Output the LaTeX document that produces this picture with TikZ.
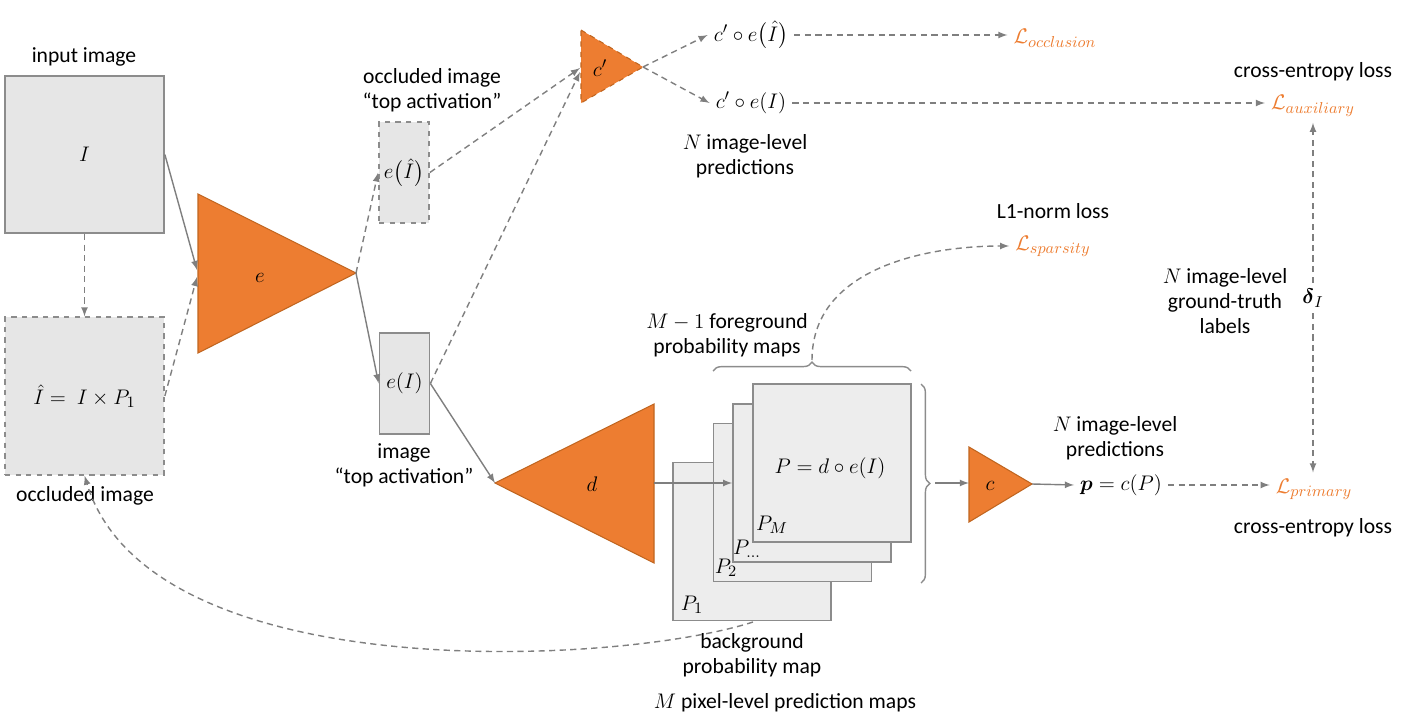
\documentclass[tikz,border=0pt]{standalone}
\usepackage{amsmath,amssymb}
\usepackage{fontspec}
\setmainfont{Carlito}
\usepackage{tikz}
\usetikzlibrary{positioning,calc,decorations.pathreplacing}

\definecolor{netorange}{HTML}{ED7D31}
\definecolor{netedge}{HTML}{C0651F}
\definecolor{boxgray}{HTML}{E6E6E6}
\definecolor{mapgray}{HTML}{EDEDED}
\definecolor{linegray}{HTML}{8C8C8C}
\definecolor{arrowgray}{HTML}{7F7F7F}

\begin{document}
\begin{tikzpicture}[>=latex,x=0.02cm,y=-0.02cm,
    every node/.style={font=\fontsize{12.3}{14.2}\selectfont},
    imgbox/.style={draw=linegray,fill=boxgray,line width=1pt,minimum width=3.18cm,minimum height=3.15cm,inner sep=0pt},
    actbox/.style={draw=linegray,fill=boxgray,line width=1pt,minimum width=1cm,minimum height=2.02cm,inner sep=0pt},
    mapbox/.style={draw=linegray,fill=mapgray,line width=1pt,minimum width=3.16cm,minimum height=3.16cm,inner sep=0pt},
    net/.style={fill=netorange,draw=netedge,line width=0.6pt},
    conn/.style={draw=arrowgray,line width=0.8pt},
    dconn/.style={conn,dash pattern=on 3.5pt off 2.5pt},
    bracket/.style={draw=linegray,line width=0.8pt,decorate,decoration={brace,amplitude=5pt}},
    loss/.style={text=netorange}]
    \useasboundingbox (0,0) rectangle (1423,720);

    % input and occluded image
    \node[imgbox] (inimg) at (84.5,154.5) {$I$};
    \node[imgbox,dashed] (occimg) at (84.5,396) {$\hat{I} =\ I \times P_1$};
    \node (inlbl) at (84,57) {input image};
    \node (occlbl) at (85,496) {occluded image};

    % encoder e
    \coordinate (etop) at (198,194);
    \coordinate (ebot) at (198,353);
    \coordinate (etip) at (356,273);
    \coordinate (ein1) at (197,270);
    \coordinate (ein2) at (197,277);
    \path[net] (etop) -- (etip) -- (ebot) -- cycle;
    \node (elbl) at (260,278) {$e$};

    \node[actbox,dashed] (acthat) at (404,172.5) {$e\bigl(\hat{I}\bigr)$};
    \node[actbox] (act) at (404.5,383.5) {$e(I)$};
    \node[align=center] (acthatlbl) at (432,90) {occluded image\\“top activation”};
    \node[align=center] (actlbl) at (404,465) {image\\“top activation”};

    % auxiliary classifier c'
    \coordinate (cptop) at (581,30);
    \coordinate (cpbot) at (581,103);
    \coordinate (cptip) at (643,67);
    \coordinate (cpin1) at (580,68);
    \coordinate (cpin2) at (580,72);
    \path[net,dashed] (cptop) -- (cptip) -- (cpbot) -- cycle;
    \node (cplbl) at (600,68) {$c'$};

    \node (predhat) at (751,35) {$c' \circ e\bigl(\hat{I}\bigr)$};
    \node (pred) at (751,103) {$c' \circ e(I)$};
    \node[align=center] (predlbl) at (745,156) {$N$ image-level\\predictions};

    \node[loss] (locc) at (1055,38) {$\mathcal{L}_{occlusion}$};
    \node (auxtitle) at (1313,72) {cross-entropy loss};
    \node[loss] (laux) at (1313,106) {$\mathcal{L}_{auxiliary}$};

    % decoder d and maps
    \coordinate (dtip) at (495,483);
    \coordinate (dtop) at (654,404);
    \coordinate (dbot) at (654,563);
    \coordinate (dout) at (654,483);
    \path[net] (dtip) -- (dtop) -- (dbot) -- cycle;
    \node (dlbl) at (592,484) {$d$};

    \node[mapbox] (map1) at (752,541.5) {};
    \node[mapbox] (map2) at (792.5,502.5) {};
    \node[mapbox] (mapdots) at (812,483) {};
    \node[mapbox] (mapM) at (832,463) {};
    \node (p1) at (692,605) {$P_1$};
    \node (p2) at (726,568) {$P_2$};
    \node (pdots) at (747,549) {$P_{\ldots}$};
    \node (pM) at (772,525) {$P_M$};
    \node (pdef) at (830,468) {$P = d \circ e(I)$};

    \draw[bracket] (713,371) -- (911,371);
    \draw[bracket] (921,384) -- (921,583);
    \coordinate (fgtip) at (812,360);
    \coordinate (alltip) at (935,483);
    \coordinate (bgout) at (753,622);

    \node[align=center] (fglbl) at (727,335) {$M-1$ foreground\\probability maps};
    \node[align=center] (bglbl) at (752,655) {background\\probability map};
    \node (alllbl) at (785,703) {$M$ pixel-level prediction maps};
    \node (l1lbl) at (1053,211) {L1-norm loss};
    \node[loss] (lsp) at (1053,246) {$\mathcal{L}_{sparsity}$};

    % classifier c
    \coordinate (ctop) at (969,447);
    \coordinate (cbot) at (969,522);
    \coordinate (ctip) at (1032,484);
    \coordinate (cin) at (969,483);
    \path[net] (ctop) -- (ctip) -- (cbot) -- cycle;
    \node (clbl) at (990,486) {$c$};

    \node (pout) at (1121,485) {$\boldsymbol{p} = c(P)$};
    \node[align=center] (poutlbl) at (1115,438) {$N$ image-level\\predictions};
    \node[loss] (lprim) at (1314,489) {$\mathcal{L}_{primary}$};
    \node (primtitle) at (1313,528) {cross-entropy loss};

    \node (gt) at (1313,298) {$\boldsymbol{\delta}_I$};
    \node[align=center] (gtlbl) at (1225,301) {$N$ image-level\\ground-truth\\labels};

    % connectors
    \draw[conn,->] (inimg.east) -- (ein1);
    \draw[dconn,->] (occimg.east) -- (ein2);
    \draw[dconn,->] (inimg.south) -- (occimg.north);
    \draw[dconn,->] (etip) -- (acthat.west);
    \draw[conn,->] (etip) -- (act.west);
    \draw[dconn,->] (acthat.east) -- (cpin1);
    \draw[dconn,->] (act.east) -- (cpin2);
    \draw[conn,->] (act.east) -- (dtip);
    \draw[dconn,->] (cptip) -- (predhat.west);
    \draw[dconn,->] (cptip) -- (pred.west);
    \draw[dconn,->] (predhat.east) -- (predhat.east -| locc.west);
    \draw[dconn,->] (pred.east) -- (pred.east -| laux.west);
    \draw[conn,->] (dout) -- (mapdots.west);
    \draw[conn,->] (alltip) -- (cin);
    \draw[conn,->] (ctip) -- (pout.west);
    \draw[dconn,->] (pout.east) -- (pout.east -| lprim.west);
    \draw[dconn,->] (gt.north) -- (gt.north |- laux.south);
    \draw[dconn,->] (gt.south) -- (gt.south |- lprim.north);
    \draw[dconn,->] (fgtip) to[out=90,in=180] (lsp.west);
    \draw[dconn,->] (bgout) .. controls (620,665) and (150,690) .. (occimg.south);
\end{tikzpicture}
\end{document}
